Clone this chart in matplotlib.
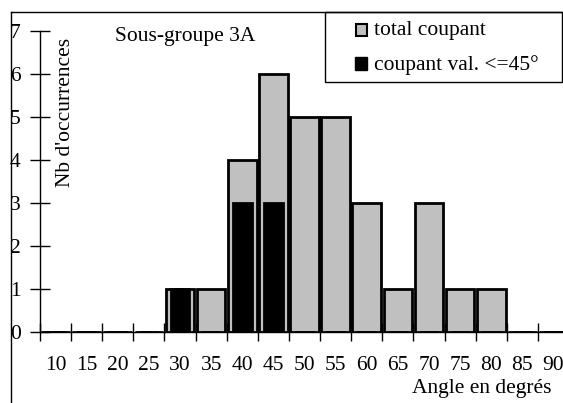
import numpy as np
import matplotlib.pyplot as plt
from matplotlib.patches import Rectangle
from matplotlib.lines import Line2D

plt.rcParams['font.family'] = ['Liberation Serif', 'DejaVu Serif']

# data
angles = [10, 15, 20, 25, 30, 35, 40, 45, 50, 55, 60, 65, 70, 75, 80, 85, 90]
total_coupant = [0, 0, 0, 0, 1, 1, 4, 6, 5, 5, 3, 1, 3, 1, 1, 0, 0]
coupant_45 = [0, 0, 0, 0, 1, 0, 3, 3, 0, 0, 0, 0, 0, 0, 0, 0, 0]

W, H = 563, 403
fs = 15.5
fig = plt.figure(figsize=(W / 100, H / 100), dpi=100)

# plot area in pixels
x0, y0, x1, y1 = 40, 332, 563, 31
ax = fig.add_axes([x0 / W, 1 - y0 / H, (x1 - x0) / W, (y0 - y1) / H])

pos = np.arange(len(angles))
step = 31.12
ax.set_xlim(-0.5, -0.5 + (x1 - x0) / step)
ax.set_ylim(0, 7)

ax.bar(pos, total_coupant, width=0.92, color='#c0c0c0', edgecolor='black', linewidth=2, zorder=2)
ax.bar(pos, coupant_45, width=0.6, color='black', edgecolor='black', linewidth=2, zorder=3)

for s in ['top', 'right']:
    ax.spines[s].set_visible(False)
ax.spines['left'].set_linewidth(1)
ax.spines['bottom'].set_linewidth(1)
ax.spines['bottom'].set_zorder(1)

ax.set_yticks(range(8))
ax.tick_params(axis='y', direction='inout', length=14, width=1, labelsize=fs, pad=7)
ax.set_xticks(pos - 0.5)
ax.set_xticklabels([])
ax.set_xticks(pos, minor=True)
ax.set_xticklabels([str(a) for a in angles], minor=True)
ax.tick_params(axis='x', which='major', direction='inout', length=13, width=1)
ax.tick_params(axis='x', which='minor', length=0, labelsize=fs, pad=17)

fig.text(115 / W, 1 - 37 / H, 'Sous-groupe 3A', fontsize=fs, va='center', ha='left')
fig.text(66 / W, 1 - 38 / H, "Nb d'occurrences", fontsize=fs, rotation=90, va='top', ha='center')
fig.text(552 / W, 1 - 389 / H, 'Angle en degrés', fontsize=fs, va='center', ha='right')

# outer frame (left and top)
fig.add_artist(Line2D([10.5 / W, 10.5 / W], [0, 1 - 12 / H], color='black', lw=1))
fig.add_artist(Line2D([10.5 / W, 562 / W], [1 - 12 / H, 1 - 12 / H], color='black', lw=1))

# legend box
fig.add_artist(Rectangle((325 / W, 1 - 82 / H), (562 - 325) / W, 70 / H,
                         facecolor='white', edgecolor='black', lw=1))
fig.add_artist(Rectangle((356 / W, 1 - 36 / H), 11 / W, 12 / H,
                         facecolor='#c0c0c0', edgecolor='black', lw=1.5))
fig.add_artist(Rectangle((355 / W, 1 - 70 / H), 12 / W, 13 / H,
                         facecolor='black', edgecolor='black', lw=1))
fig.text(374 / W, 1 - 30 / H, 'total coupant', fontsize=fs, va='center', ha='left')
fig.text(374 / W, 1 - 65 / H, 'coupant val. <=45°', fontsize=fs, va='center', ha='left')

fig.savefig('out.png', dpi=100)
